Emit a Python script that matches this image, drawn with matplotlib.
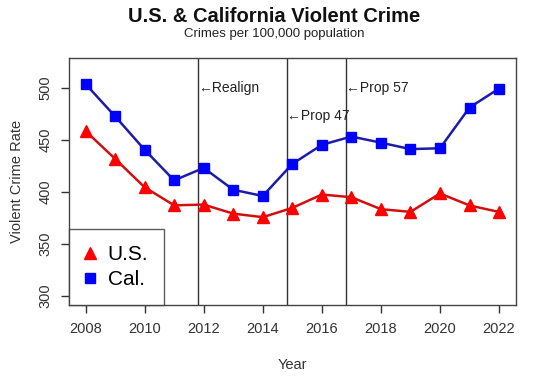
import numpy as np
import matplotlib.pyplot as plt
from matplotlib.lines import Line2D

plt.rcParams['font.family'] = ['Liberation Sans', 'DejaVu Sans']

years = list(range(2008, 2023))
us_rate = [458.6, 431.9, 404.5, 387.1, 387.8, 379.1, 375.7, 384.6, 397.5,
           394.9, 383.4, 380.8, 398.5, 387.0, 380.7]
cal_rate = [503.8, 472.8, 440.6, 411.1, 423.1, 402.1, 396.1, 426.9, 445.3,
            453.3, 447.4, 441.2, 442.0, 481.2, 499.5]
events = [(2011.8, 500, "\u2190Realign"),
          (2014.82, 473, "\u2190Prop 47"),
          (2016.83, 500, "\u2190Prop 57")]

fig = plt.figure(figsize=(5.55, 3.82), dpi=100)
ax = fig.add_axes([0.1243, 0.2016, 0.8047, 0.6464])

ax.plot(years, us_rate, color='#d01010', lw=1.8, marker='^', ms=8,
        mfc='red', mec='red', zorder=3)
ax.plot(years, cal_rate, color='#1c1ca8', lw=1.8, marker='s', ms=6.5,
        mfc='blue', mec='blue', zorder=3)

for x, y, lab in events:
    ax.axvline(x, color='#333333', lw=1.0)
    ax.text(x, y, lab, ha='left', va='center', fontsize=10, color='#222222')

ax.set_xlim(2007.44, 2022.56)
ax.set_ylim(291.2, 528.8)
ax.set_xticks(range(2008, 2023, 2))
ax.set_yticks(range(300, 501, 50))
ax.set_yticklabels([str(v) for v in range(300, 501, 50)], rotation=90, va='center')
ax.tick_params(labelsize=10.5, colors='#333333', length=6, width=1.0, pad=6)
for s in ax.spines.values():
    s.set_color('#444444')
    s.set_linewidth(1.0)

ax.set_xlabel("Year", fontsize=10.5, color='#333333', labelpad=16)
ax.set_ylabel("Violent Crime Rate", fontsize=10.5, color='#333333', labelpad=10)

fig.text(0.494, 0.958, "U.S. & California Violent Crime", ha='center', va='center',
         fontsize=14.5, fontweight='bold', color='#111111')
fig.text(0.495, 0.912, "Crimes per 100,000 population", ha='center', va='center',
         fontsize=9.5, color='#222222')

handles = [Line2D([], [], ls='none', marker='^', ms=9, color='red'),
           Line2D([], [], ls='none', marker='s', ms=7, color='blue')]
leg = ax.legend(handles, ["U.S.", "Cal."], loc='lower left', fontsize=15,
                frameon=True, fancybox=False, borderaxespad=0,
                handletextpad=0.6, handlelength=0.5, borderpad=0.75,
                labelspacing=0.3)
leg.get_frame().set_edgecolor('#333333')
leg.get_frame().set_linewidth(1.0)

fig.savefig('out.png', dpi=100)
